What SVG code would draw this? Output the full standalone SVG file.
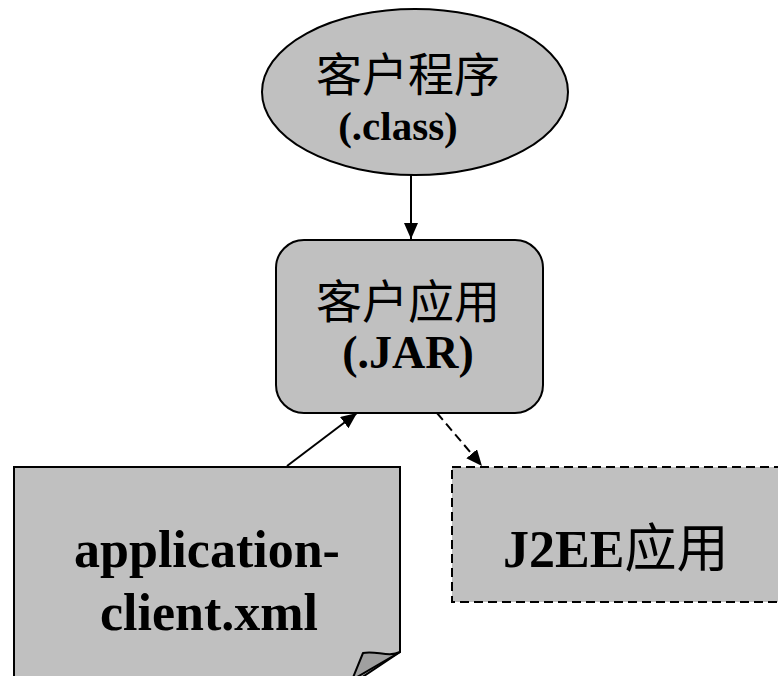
<svg xmlns="http://www.w3.org/2000/svg" width="778" height="676" viewBox="0 0 778 676">
  <defs>
    <style>
      .shape { fill: #c0c0c0; stroke: #000; stroke-width: 2; }
      .dashed { stroke-dasharray: 9 5; }
      .edge { fill: none; stroke: #000; stroke-width: 2; }
      .cjk { font-family: "Liberation Serif", "Noto Sans CJK SC", serif; fill: #000; text-anchor: middle; }
      .latin { font-family: "Liberation Serif", "Noto Sans CJK SC", serif; font-weight: bold; fill: #000; text-anchor: middle; }
    </style>
    <marker id="arrow" markerUnits="userSpaceOnUse" markerWidth="16" markerHeight="14" refX="16" refY="7" orient="auto">
      <path d="M0,0 L16,7 L0,14 Z" fill="#000"/>
    </marker>
  </defs>

  <rect width="778" height="676" fill="#fff"/>

  <!-- connectors -->
  <g id="connectors">
    <line class="edge" x1="411" y1="175" x2="411" y2="239" marker-end="url(#arrow)"/>
    <line class="edge" x1="287" y1="466" x2="357" y2="413" marker-end="url(#arrow)"/>
    <line class="edge dashed" x1="437" y1="413" x2="482" y2="466" marker-end="url(#arrow)"/>
  </g>

  <!-- client program -->
  <g id="client-program">
    <ellipse class="shape" cx="415" cy="92" rx="153" ry="83"/>
    <text class="cjk" x="408" y="91" font-size="46">客户程序</text>
    <text class="latin" x="398" y="140" font-size="41">(.class)</text>
  </g>

  <!-- client application archive -->
  <g id="client-jar">
    <rect class="shape" x="276" y="240" width="267" height="173" rx="28" ry="28"/>
    <text class="cjk" x="408" y="318" font-size="46">客户应用</text>
    <text class="latin" x="408" y="368" font-size="46">(.JAR)</text>
  </g>

  <!-- deployment descriptor document -->
  <g id="descriptor">
    <path class="shape" d="M14,467 L400,467 L400,652 L352,684 L14,684 Z"/>
    <path d="M400,652 C388,658 376,650 363,653 L352,680 Z" fill="#a0a0a0" stroke="#000" stroke-width="2" stroke-linejoin="round"/>
    <text class="latin" x="207" y="567" font-size="52">application-</text>
    <text class="latin" x="209" y="630" font-size="52">client.xml</text>
  </g>

  <!-- J2EE application -->
  <g id="j2ee-app">
    <rect class="shape dashed" x="452" y="467" width="340" height="135"/>
    <text x="503" y="567" font-size="52" font-family="Liberation Serif, Noto Sans CJK SC, serif"><tspan font-weight="bold">J2EE</tspan><tspan>应用</tspan></text>
  </g>
</svg>
